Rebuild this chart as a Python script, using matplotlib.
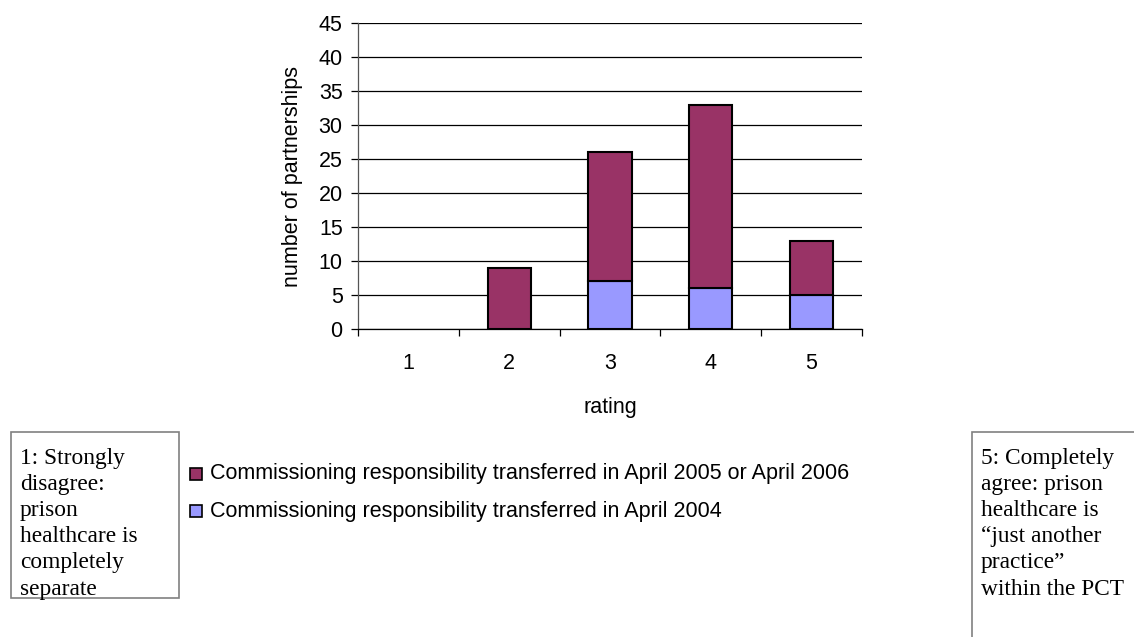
import matplotlib.pyplot as plt
import numpy as np

ratings = ["1", "2", "3", "4", "5"]
april_2004 = [0, 0, 7, 6, 5]
april_2005_2006 = [0, 9, 19, 27, 8]
yticks = list(range(0, 50, 5))

label_later = "Commissioning responsibility transferred in April 2005 or April 2006"
label_2004 = "Commissioning responsibility transferred in April 2004"
note_left = "1: Strongly\ndisagree:\nprison\nhealthcare is\ncompletely\nseparate"
note_right = "5: Completely\nagree: prison\nhealthcare is\n\u201cjust another\npractice\u201d\nwithin the PCT"

plt.rcParams['font.family'] = ['Liberation Sans', 'DejaVu Sans']

fig = plt.figure(figsize=(11.34, 6.37), dpi=100)
W, H = 1134, 637
ax = fig.add_axes([358 / W, 1 - 329 / H, 504 / W, 306 / H])

x = np.arange(len(ratings))
bw = 0.43
low = np.array(april_2004)
high = np.array(april_2005_2006)
# skip empty segments so no flat outline is drawn at zero
m = low > 0
ax.bar(x[m], low[m], bw, color="#9999ff", edgecolor="black", linewidth=1.5, zorder=3)
m = high > 0
ax.bar(x[m], high[m], bw, bottom=low[m], color="#993366",
       edgecolor="black", linewidth=1.5, zorder=3)

ax.set_xlim(-0.5, len(ratings) - 0.5)
ax.set_ylim(0, 45)
ax.set_yticks(yticks)
ax.yaxis.grid(True, color="black", linewidth=0.9)
ax.set_axisbelow(True)
ax.set_xticks(x)
ax.set_xticklabels(ratings)
ax.set_xticks(np.arange(-0.5, len(ratings)), minor=True)
ax.tick_params(axis="x", which="major", length=0, pad=17, labelsize=15.5)
ax.tick_params(axis="x", which="minor", length=5, width=0.9, direction="out")
ax.tick_params(axis="y", length=5, width=0.9, labelsize=15.5, pad=6)
for s in ["top", "right"]:
    ax.spines[s].set_visible(False)
ax.spines["left"].set_linewidth(0.9)
ax.spines["left"].set_color("#555555")
ax.spines["bottom"].set_linewidth(0.9)
ax.set_ylabel("number of partnerships", fontsize=15.5, labelpad=11)
ax.set_xlabel("rating", fontsize=15.5, labelpad=17)

# legend drawn by hand below the plot
fig.patches.append(plt.Rectangle((190 / W, 1 - 480 / H), 12 / W, 12 / H,
                                 transform=fig.transFigure, facecolor="#993366",
                                 edgecolor="black", linewidth=1.2))
fig.patches.append(plt.Rectangle((190 / W, 1 - 517 / H), 12 / W, 12 / H,
                                 transform=fig.transFigure, facecolor="#9999ff",
                                 edgecolor="black", linewidth=1.2))
fig.text(210 / W, 1 - 474 / H, label_later, fontsize=15.5, va="center")
fig.text(210 / W, 1 - 511 / H, label_2004, fontsize=15.5, va="center")

# note boxes at either side
for x0, y0, w, h in [(11, 432, 168, 166), (972, 432, 170, 210)]:
    fig.patches.append(plt.Rectangle((x0 / W, 1 - (y0 + h) / H), w / W, h / H,
                                     transform=fig.transFigure, facecolor="white",
                                     edgecolor="#808080", linewidth=1.2))
fig.text(20 / W, 1 - 448 / H, note_left, fontsize=16.8, family="Liberation Serif",
         va="top", linespacing=1.32)
fig.text(981 / W, 1 - 448 / H, note_right, fontsize=16.8, family="Liberation Serif",
         va="top", linespacing=1.32)

fig.savefig("out.png", dpi=100)
